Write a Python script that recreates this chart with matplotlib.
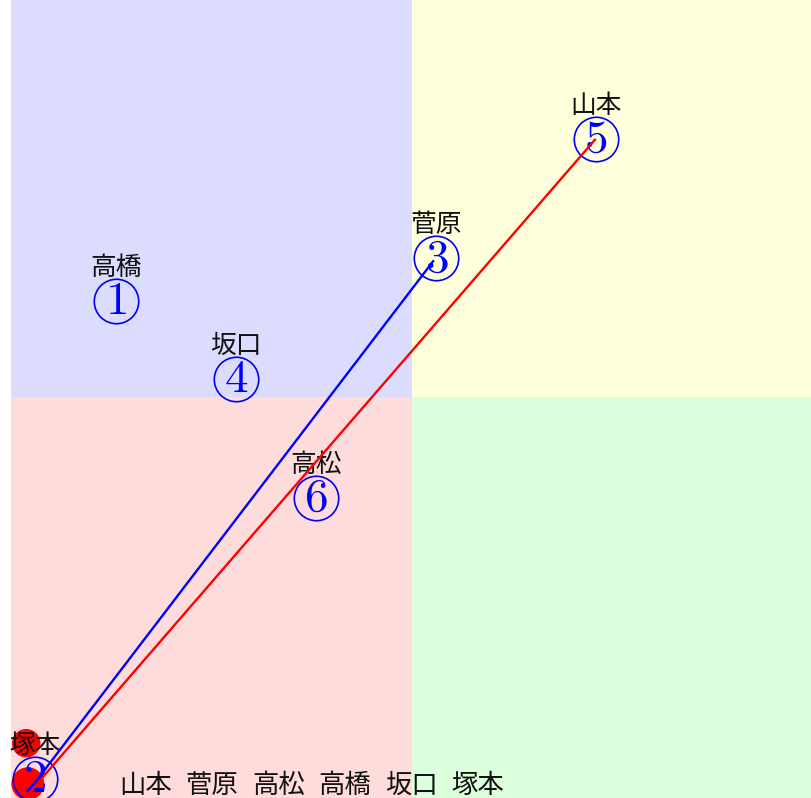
import numpy as np
import matplotlib.pyplot as plt

plt.rcParams['font.family'] = ['Noto Sans CJK JP', 'DejaVu Sans']
plt.rcParams['mathtext.fontset'] = 'cm'

# points: number, name, x, y
numbers = ['1', '2', '3', '4', '5', '6']
names = ['高橋', '塚本', '菅原', '坂口', '山本', '高松']
px = [13.1, 3.0, 53.1, 28.1, 73.0, 38.1]
py = [62.1, 1.9, 67.5, 52.3, 82.5, 37.3]

# red dots near the origin
dot_x = [1.9, 2.1]
dot_y = [6.4, 1.3]
dot_size = [420, 560]

# connecting lines
blue_x = [2.2, 52.7]
blue_y = [0.4, 67.1]
red_x = [2.4, 72.9]
red_y = [0.3, 82.4]

# names listed along the bottom
bottom_names = ['山本', '菅原', '高松', '高橋', '坂口', '塚本']

fig = plt.figure(figsize=(8.12, 7.98), dpi=100)
ax = fig.add_axes([11 / 812, 0, 801 / 812, 1])
ax.set_xlim(0, 100)
ax.set_ylim(-0.5, 100)
ax.axis('off')

# quadrant backgrounds
ax.fill_between([0, 50], 50, 100, color='#dcdcff', lw=0, zorder=0)
ax.fill_between([50, 100], 50, 100, color='#ffffdc', lw=0, zorder=0)
ax.fill_between([0, 50], -0.5, 50, color='#ffdcdc', lw=0, zorder=0)
ax.fill_between([50, 100], -0.5, 50, color='#dcffdc', lw=0, zorder=0)

ax.scatter(dot_x, dot_y, s=dot_size, color='red', lw=0, zorder=1, clip_on=False)

for num, name, x, y in zip(numbers, names, px, py):
    ax.plot(x, y, marker='o', ms=32, mfc='none', mec='blue', mew=1.2,
            zorder=3, clip_on=False)
    ax.text(x, y, '$' + num + '$', color='blue', fontsize=34,
            ha='center', va='center', zorder=3)
    ax.annotate(name, (x, y), xytext=(0, 33), textcoords='offset pixels',
                ha='center', va='center', fontsize=18.5, color='#111111', zorder=2)

ax.plot(blue_x, blue_y, color='blue', lw=1.7, zorder=4, clip_on=False)
ax.plot(red_x, red_y, color='red', lw=1.7, zorder=4, clip_on=False)

for i, nm in enumerate(bottom_names):
    ax.annotate(nm, (13.5, 1.1), xytext=(66.5 * i, 0), textcoords='offset pixels',
                ha='left', va='center', fontsize=19, color='#111111', zorder=2)

fig.savefig('out.png', dpi=100)
